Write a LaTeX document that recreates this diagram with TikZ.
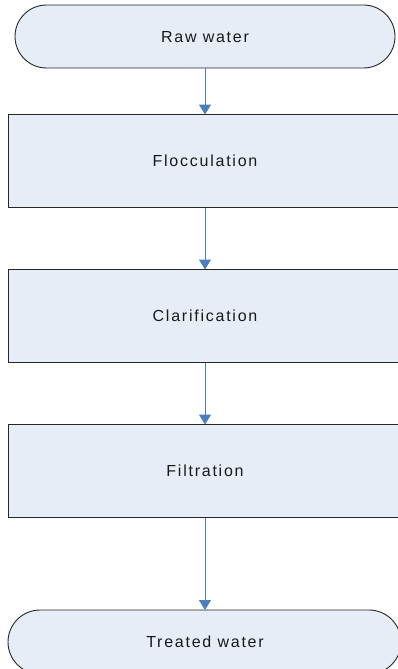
\documentclass[tikz,border=0pt]{standalone}
\usepackage{fontspec}
\setmainfont{Liberation Sans}[LetterSpace=11]
\usetikzlibrary{arrows.meta}
\definecolor{boxfill}{HTML}{E6EDF7}
\definecolor{arrowblue}{HTML}{4A7EBF}
\tikzset{
  term/.style={draw=black!85, line width=0.9pt, fill=boxfill},
  proc/.style={draw=black!85, line width=0.9pt, fill=boxfill},
  lbl/.style={font=\fontsize{16}{18}\selectfont, text=black!90},
  flow/.style={draw=arrowblue, line width=1pt, -{Triangle[width=12pt,length=10pt]}}
}
\begin{document}
\begin{tikzpicture}[x=1pt,y=-1pt]
\useasboundingbox (0,0) rectangle (398,669);
\clip (0,0) rectangle (398,669);
% Raw water terminator
\draw[term, rounded corners=31.5pt] (15,5) rectangle (395,68);
\node[lbl] (raw) at (205,37) {Raw water};
\coordinate (rawb) at (205,68);
% process boxes
\draw[proc] (8.5,114.5) rectangle (401.5,207.5);
\node[lbl] (floc) at (205,161) {Flocculation};
\coordinate (flocT) at (205,114.5);
\coordinate (flocB) at (205,207.5);
\draw[proc] (8.5,269.5) rectangle (401.5,362.5);
\node[lbl] (clar) at (205,316) {Clarification};
\coordinate (clarT) at (205,269.5);
\coordinate (clarB) at (205,362.5);
\draw[proc] (8.5,424.5) rectangle (401.5,517.5);
\node[lbl] (filt) at (205,471) {Filtration};
\coordinate (filtT) at (205,424.5);
\coordinate (filtB) at (205,517.5);
% Treated water terminator
\draw[term, rounded corners=32pt] (8,610) rectangle (401,674);
\node[lbl] (treat) at (205,642) {Treated water};
\coordinate (treatT) at (205,610);
% connectors
\draw[flow] (rawb) -- (flocT);
\draw[flow] (flocB) -- (clarT);
\draw[flow] (clarB) -- (filtT);
\draw[flow] (filtB) -- (treatT);
\end{tikzpicture}
\end{document}
